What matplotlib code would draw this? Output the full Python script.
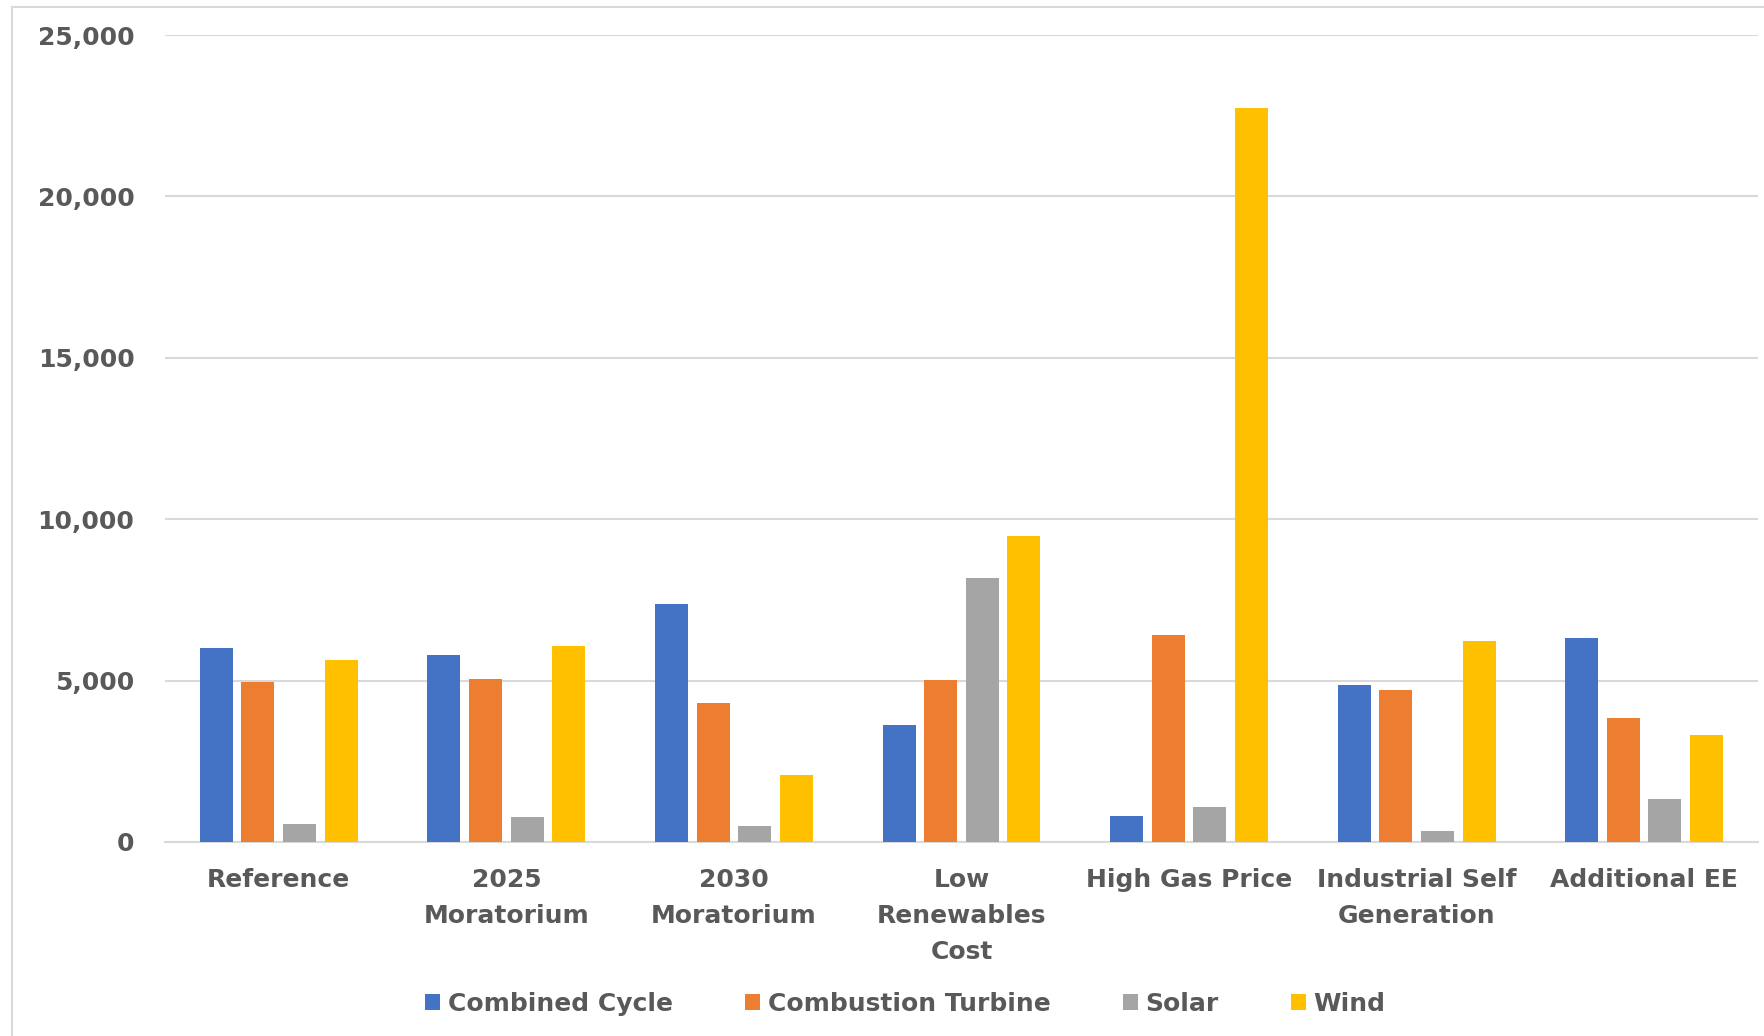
import numpy as np
import matplotlib
matplotlib.use("Agg")
from matplotlib import pyplot as plt
from matplotlib.patches import Rectangle
from matplotlib.ticker import FuncFormatter

scenarios = ["Reference", "2025\nMoratorium", "2030\nMoratorium", "Low\nRenewables\nCost",
             "High Gas Price", "Industrial Self\nGeneration", "Additional EE"]
series = ["Combined Cycle", "Combustion Turbine", "Solar", "Wind"]
combined_cycle = [6000, 5790, 7360, 3630, 800, 4850, 6310]
combustion_turbine = [4950, 5060, 4290, 5020, 6420, 4710, 3840]
solar = [560, 770, 490, 8190, 1080, 350, 1330]
wind = [5650, 6070, 2060, 9480, 22730, 6240, 3310]
colors = ["#4472C4", "#ED7D31", "#A5A5A5", "#FFC000"]

text_color = "#595959"
grid_color = "#D9D9D9"

plt.rcParams['font.family'] = ['DejaVu Sans']

def main():
    fig = plt.figure(figsize=(17.65, 10.36), dpi=100)
    ax = fig.add_axes([0.0935, 0.1873, 0.9025, 0.7789])

    # outer chart border
    fig.patches.append(Rectangle((12 / 1765, -0.1), 1.2, 1 - 7 / 1036 + 0.1,
                                 transform=fig.transFigure, fill=False,
                                 edgecolor=grid_color, linewidth=1.5))

    x = np.arange(len(scenarios))
    width = 0.145
    step = 0.183
    values = [combined_cycle, combustion_turbine, solar, wind]
    for i, (name, vals) in enumerate(zip(series, values)):
        ax.bar(x + (i - 1.5) * step, vals, width, color=colors[i], label=name, zorder=3)

    ax.set_xlim(-0.5, len(scenarios) - 0.5)
    ax.set_ylim(0, 25000)
    ax.set_yticks(np.arange(0, 25001, 5000))
    ax.yaxis.set_major_formatter(FuncFormatter(lambda v, p: f"{int(v):,}"))
    ax.set_xticks(x)
    ax.set_xticklabels(scenarios, linespacing=1.62)

    ax.grid(axis="y", color=grid_color, linewidth=1.5, zorder=0)
    for s in ["top", "right", "left"]:
        ax.spines[s].set_visible(False)
    ax.spines["bottom"].set_color(grid_color)
    ax.spines["bottom"].set_linewidth(1.5)

    ax.tick_params(axis="y", length=0, pad=22, labelsize=18, labelcolor=text_color)
    ax.tick_params(axis="x", length=0, pad=19, labelsize=18, labelcolor=text_color)
    for lab in ax.get_xticklabels() + ax.get_yticklabels():
        lab.set_fontweight("bold")

    leg = fig.legend(loc="center", bbox_to_anchor=(0.513, 1 - 1004 / 1036), ncol=4,
                     frameon=False, fontsize=18, handlelength=0.6, handleheight=0.6,
                     handletextpad=0.3, columnspacing=2.9)
    for t in leg.get_texts():
        t.set_color(text_color)
        t.set_fontweight("bold")

    fig.savefig("out.png", dpi=100)

if __name__ == "__main__":
    main()
